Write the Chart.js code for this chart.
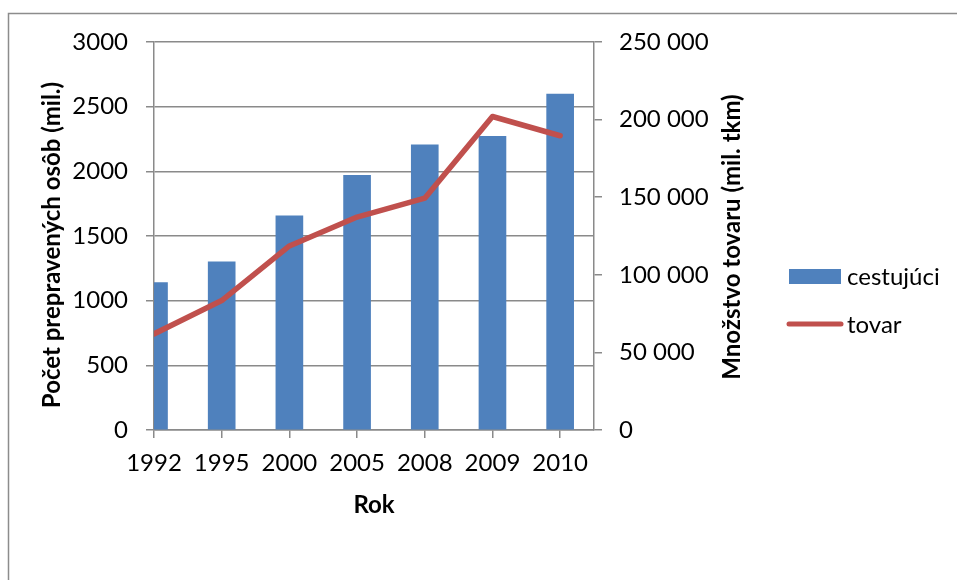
<!DOCTYPE html>
<html>
<head>
<meta charset="utf-8">
<script src="https://cdn.jsdelivr.net/npm/chart.js@4.4.0/dist/chart.umd.min.js"></script>
<style>
  html, body { margin: 0; padding: 0; background: #fff; }
  #wrap { width: 957px; height: 580px; }
</style>
</head>
<body>
<div id="wrap"><canvas id="chart" width="957" height="580"></canvas></div>
<script>
// ---- data ----
const years = ["1992", "1995", "2000", "2005", "2008", "2009", "2010"];
const passengers = [1140, 1300, 1655, 1970, 2205, 2270, 2598];       // mil. osôb
const freight = [61900, 83400, 118600, 137200, 149400, 202000, 189600]; // mil. tkm
const leftTicks = [0, 500, 1000, 1500, 2000, 2500, 3000];
const rightTicks = [0, 50000, 100000, 150000, 200000, 250000];

const BLUE = "#4F81BD";
const RED = "#C0504D";
const GRID = "#8a8a8a";
const FONT = "Lato";

function spaced(v) {
  return String(v).replace(/\B(?=(\d{3})+(?!\d))/g, " ");
}

// frame, axis titles and legend (Excel style)
const decor = {
  id: "decor",
  afterDraw(chart) {
    const ctx = chart.ctx;
    const a = chart.chartArea;
    ctx.save();
    ctx.strokeStyle = "#8c8c8c";
    ctx.lineWidth = 1.5;
    ctx.strokeRect(8.5, 13.5, 1200, 1200);

    ctx.fillStyle = "#000";
    ctx.font = "bold 24px " + FONT;
    ctx.textAlign = "center";
    ctx.textBaseline = "middle";
    ctx.fillText("Rok", (a.left + a.right) / 2, 505);

    ctx.save();
    ctx.translate(52, 245);
    ctx.rotate(-Math.PI / 2);
    ctx.fillText("Počet prepravených osôb (mil.)", 0, 0);
    ctx.restore();

    ctx.save();
    ctx.translate(732, 237);
    ctx.rotate(-Math.PI / 2);
    ctx.fillText("Množstvo tovaru (mil. tkm)", 0, 0);
    ctx.restore();

    // legend
    ctx.font = "24px " + FONT;
    ctx.textAlign = "left";
    ctx.fillStyle = BLUE;
    ctx.fillRect(789, 269, 52, 15);
    ctx.strokeStyle = RED;
    ctx.lineWidth = 5;
    ctx.lineCap = "round";
    ctx.beginPath();
    ctx.moveTo(789, 324);
    ctx.lineTo(841, 324);
    ctx.stroke();
    ctx.fillStyle = "#000";
    ctx.fillText("cestujúci", 847, 277);
    ctx.fillText("tovar", 847, 325);
    ctx.restore();
  }
};

function build() {
  Chart.defaults.font.family = FONT;
  Chart.defaults.font.size = 24;
  Chart.defaults.color = "#000";

  new Chart(document.getElementById("chart"), {
    type: "bar",
    data: {
      datasets: [
        {
          type: "bar",
          label: "cestujúci",
          data: years.map((y, i) => ({ x: i, y: passengers[i] })),
          backgroundColor: BLUE,
          barThickness: 27,
          yAxisID: "y",
          clip: 0,
          order: 1
        },
        {
          type: "line",
          label: "tovar",
          data: years.map((y, i) => ({ x: i, y: freight[i] })),
          borderColor: RED,
          borderWidth: 5.5,
          borderCapStyle: "round",
          borderJoinStyle: "round",
          pointRadius: 0,
          tension: 0,
          fill: false,
          yAxisID: "y1",
          order: 0
        }
      ]
    },
    options: {
      responsive: false,
      animation: false,
      layout: { padding: { top: 42, left: 0, right: 0, bottom: 0 } },
      plugins: { legend: { display: false }, tooltip: { enabled: false } },
      scales: {
        x: {
          type: "linear",
          offset: false,
          min: 0,
          max: years.length - 0.5,
          afterFit: s => { s.height = 150; },
          grid: { offset: false, drawOnChartArea: false, tickLength: 8, color: GRID, lineWidth: 1.5 },
          border: { color: GRID, width: 1.5 },
          ticks: {
            stepSize: 1,
            includeBounds: false,
            autoSkip: false,
            maxRotation: 0,
            padding: 11,
            callback: v => years[v] ?? ""
          }
        },
        y: {
          position: "left",
          min: leftTicks[0],
          max: leftTicks[leftTicks.length - 1],
          afterFit: s => { s.width = 154; },
          afterBuildTicks: s => { s.ticks = leftTicks.map(v => ({ value: v })); },
          grid: { color: GRID, lineWidth: 1.5, tickLength: 8 },
          border: { color: GRID, width: 1.5 },
          ticks: { padding: 18, callback: v => String(v) }
        },
        y1: {
          position: "right",
          min: rightTicks[0],
          max: rightTicks[rightTicks.length - 1],
          afterFit: s => { s.width = 363; },
          afterBuildTicks: s => { s.ticks = rightTicks.map(v => ({ value: v })); },
          grid: { drawOnChartArea: false, color: GRID, lineWidth: 1.5, tickLength: 8 },
          border: { color: GRID, width: 1.5 },
          ticks: { padding: 17, callback: v => spaced(v) }
        }
      }
    },
    plugins: [decor]
  });
}

if (document.fonts && document.fonts.load) {
  Promise.all([
    document.fonts.load("24px " + FONT),
    document.fonts.load("bold 24px " + FONT)
  ]).then(build, build);
} else {
  build();
}
</script>
</body>
</html>
